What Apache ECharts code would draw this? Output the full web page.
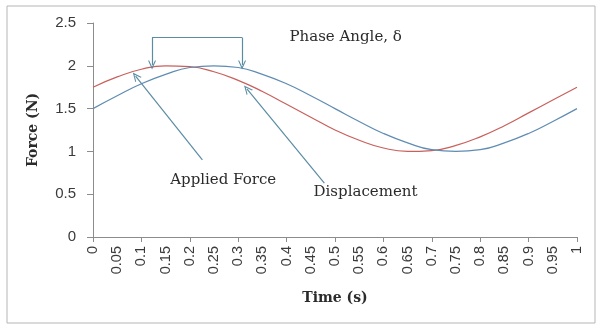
<!DOCTYPE html>
<html>
<head>
<meta charset="utf-8">
<script src="https://cdn.jsdelivr.net/npm/echarts@6/dist/echarts.min.js"></script>
<style>
html,body{margin:0;padding:0;background:#fff;}
#chart{width:600px;height:326px;}
</style>
</head>
<body>
<div id="chart"></div>
<script>
// time (s) and the two curves
var times = [0, 0.05, 0.1, 0.15, 0.2, 0.25, 0.3, 0.35, 0.4, 0.45, 0.5, 0.55, 0.6, 0.65, 0.7, 0.75, 0.8, 0.85, 0.9, 0.95, 1];
var appliedForce = [1.75, 1.87, 1.96, 2.0, 1.99, 1.93, 1.83, 1.70, 1.55, 1.40, 1.25, 1.13, 1.04, 1.0, 1.01, 1.07, 1.17, 1.30, 1.45, 1.60, 1.75];
var displacement = [1.5, 1.65, 1.79, 1.90, 1.98, 2.0, 1.98, 1.90, 1.79, 1.65, 1.5, 1.35, 1.21, 1.10, 1.02, 1.0, 1.02, 1.10, 1.21, 1.35, 1.5];
var yTicks = [0, 0.5, 1, 1.5, 2, 2.5];

var serifFont = '"DejaVu Serif", serif';
var tickFont = '"Liberation Sans", sans-serif';
var arrowColor = '#5a8ca3';
var chevron = 'path://M5,0L10,10L8.6,10L5,3L1.4,10L0,10Z';

function pairs(xs, ys) {
	return xs.map(function (x, i) { return [x, ys[i]]; });
}

function seg(a, b, arrowEnd) {
	return [
		{coord: a, symbol: 'none'},
		{coord: b, symbol: arrowEnd ? chevron : 'none'}
	];
}

function note(text, at) {
	return {
		coord: at, symbol: 'circle', symbolSize: 0,
		label: {show: true, position: 'inside', formatter: text, color: '#2b2b2b', fontFamily: serifFont, fontSize: 15}
	};
}

var myChart = echarts.init(document.getElementById('chart'));
var option = {
	animation: false,
	graphic: [{
		type: 'rect', shape: {x: 7, y: 6, width: 588, height: 317},
		style: {fill: 'none', stroke: '#b5b5b5', lineWidth: 1}
	}],
	grid: {left: 93, right: 23, top: 23, bottom: 89},
	xAxis: [{
		type: 'value', min: 0, max: 1, interval: 0.05,
		name: 'Time (s)', nameLocation: 'middle', nameGap: 54,
		nameTextStyle: {fontFamily: serifFont, fontWeight: 'bold', fontSize: 14, color: '#2b2b2b'},
		axisLine: {lineStyle: {color: '#8c8c8c'}},
		axisTick: {show: false},
		splitLine: {show: false},
		axisLabel: {rotate: 90, margin: 9, fontFamily: tickFont, fontSize: 14.5, color: '#3a3a3a',
			formatter: function (v) { return String(Math.round(v * 100) / 100); }}
	}, {
		type: 'value', min: 0, max: 1, interval: 0.1, position: 'bottom',
		axisLine: {show: false},
		axisTick: {show: true, length: 5, lineStyle: {color: '#8c8c8c'}},
		axisLabel: {show: false},
		splitLine: {show: false}
	}],
	yAxis: {
		type: 'value', min: yTicks[0], max: yTicks[yTicks.length - 1], interval: 0.5,
		name: 'Force (N)', nameLocation: 'middle', nameGap: 53,
		nameTextStyle: {fontFamily: serifFont, fontWeight: 'bold', fontSize: 14, color: '#2b2b2b'},
		axisLine: {show: true, lineStyle: {color: '#8c8c8c'}},
		axisTick: {show: true, length: 6, lineStyle: {color: '#8c8c8c'}},
		splitLine: {show: false},
		axisLabel: {margin: 17, fontFamily: tickFont, fontSize: 15, color: '#3a3a3a'}
	},
	series: [{
		name: 'Applied Force', type: 'line', smooth: true, symbol: 'none',
		lineStyle: {color: '#c8605c', width: 1.2},
		data: pairs(times, appliedForce)
	}, {
		name: 'Displacement', type: 'line', smooth: true, symbol: 'none',
		lineStyle: {color: '#5f8cb3', width: 1.2},
		data: pairs(times, displacement),
		markLine: {
			silent: true, symbolSize: [8, 9],
			lineStyle: {color: arrowColor, type: 'solid', width: 1.2},
			itemStyle: {color: arrowColor},
			label: {show: false},
			data: [
				seg([0.122, 2.33], [0.122, 2.01], true),
				seg([0.122, 2.33], [0.308, 2.33], false),
				seg([0.308, 2.33], [0.308, 2.01], true),
				seg([0.226, 0.9], [0.088, 1.88], true),
				seg([0.478, 0.63], [0.318, 1.73], true)
			]
		},
		markPoint: {
			silent: true,
			data: [
				note('Phase Angle, δ', [0.522, 2.33]),
				note('Applied Force', [0.269, 0.66]),
				note('Displacement', [0.563, 0.53])
			]
		}
	}]
};
myChart.setOption(option);
</script>
</body>
</html>
